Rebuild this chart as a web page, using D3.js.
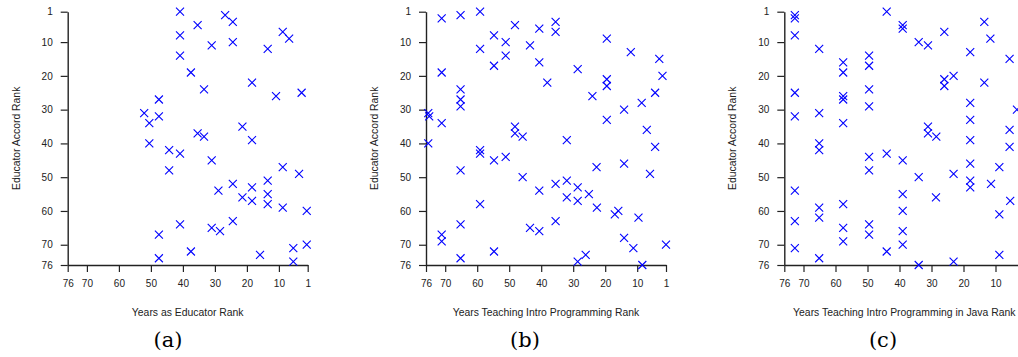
<!DOCTYPE html>
<html>
<head>
<meta charset="utf-8">
<script src="https://cdn.jsdelivr.net/npm/d3@7"></script>
<style>
  html, body { margin: 0; padding: 0; background: #fff; }
  svg { display: block; }
</style>
</head>
<body>
<svg id="chart" width="1018" height="357"></svg>
<script>
// ---- Data (ranks) ----
const xTicks = [76, 70, 60, 50, 40, 30, 20, 10, 1];
const yTicks = [1, 10, 20, 30, 40, 50, 60, 70, 76];
const yTitle = "Educator Accord Rank";
const xTitles = ["Years as Educator Rank", "Years Teaching Intro Programming Rank", "Years Teaching Intro Programming in Java Rank"];
const captions = ["(a)", "(b)", "(c)"];

// Panel (a): Years as Educator Rank vs Educator Accord Rank
const aX = [40.9,35.4,40.9,40.9,26.8,24.4,31,24.4,37.5,33.4,18.4,13.5,8.8,6.8,10.9,2.9,47.5,52.1,50.5,47.5,50.5,44.3,40.9,44.3,35.4,33.4,31,21.4,18.4,8.8,3.7,28.9,24.4,21.4,18.4,18.4,13.5,13.5,13.5,8.8,1.3,40.9,47.5,47.5,37.5,31,28.4,24.4,15.9,5.5,5.5,1.3];
const aY = [1,5,8,14,2,4,11,10,19,24,22,12,7,9,26,25,27,31,34,32,40,42,43,48,37,38,45,35,39,47,49,54,52,56,53,57,51,55,58,59,60,64,67,74,72,65,66,63,73,71,75,70];

// Panel (b): Years Teaching Intro Programming Rank
const bX = [71.1,65.2,59.1,54.75,51.1,48.2,43.5,40.6,35.5,35.5,59.1,51.1,54.75,40.6,38.1,28.6,19.5,12,3.1,2.1,19.5,19.5,24,14.1,8.6,4.4,19.5,7,4.4,75.3,75,75.3,71.1,71.1,65.2,65.2,65.2,48.2,48.2,45.8,32,59.1,59.1,54.75,51.1,65.2,22.7,14.1,6,45.8,32,40.6,35.5,32,28.6,28.6,25.1,22.6,17,15.9,9.6,59.1,65.2,65.2,71.1,71.1,54.75,43.5,40.6,35.5,28.6,26.1,14.1,11.2,8.4,1];
const bY = [3,2,1,8,10,5,11,6,4,7,12,14,17,16,22,18,9,13,15,20,21,23,26,30,28,25,33,36,41,31,32,40,19,34,24,27,29,35,37,38,39,42,43,45,44,48,47,46,49,50,51,54,52,56,53,57,55,59,61,60,62,58,64,74,67,69,72,65,66,63,75,73,68,71,76,70];

// Panel (c): Years Teaching Intro Programming in Java Rank
const cX = [72.7,72.7,72.7,72.7,72.7,65.1,65.1,65.1,65.1,57.6,57.6,57.6,57.6,57.6,49.5,49.5,49.5,49.5,49.5,49.5,44,44,39,39,39,34,31.1,31.1,31.1,28.5,34,26,26,26,23.1,23.1,17.9,17.9,17.9,17.9,17.9,17.9,13.5,13.5,11.6,8.8,5.6,5.6,5.6,3.3,72.7,72.7,72.7,65.1,65.1,65.1,57.6,57.6,57.6,49.5,49.5,44,39,39,39,39,34,28.6,23.1,17.9,11.4,8.8,8.8,5.4];
const cY = [2,3,8,25,32,12,31,40,42,16,19,26,27,34,14,17,24,29,44,48,1,43,5,6,45,10,11,35,37,38,50,7,21,23,20,49,13,28,33,39,46,51,4,22,9,47,15,36,41,30,54,63,71,59,62,74,58,65,69,64,67,72,55,60,66,70,76,56,75,53,52,61,73,57];

const panels = [
  { xs: aX, ys: aY, x0: 67.7 },
  { xs: bX, ys: bY, x0: 426 },
  { xs: cX, ys: cY, x0: 784.3 }
];
const captionX = [168, 525, 883];

// ---- Drawing ----
const W = 1018;
const svg = d3.select("#chart");
const plotW = 240, yTop = 11.7, yBot = 265;
const textColor = "#222";
const axisColor = "#222";
const sans = "'Liberation Sans', Arial, Helvetica, sans-serif";

panels.forEach((p, i) => {
  const x = d3.scaleLinear().domain([76, 1]).range([p.x0, p.x0 + plotW]);
  const y = d3.scaleLinear().domain([1, 76]).range([yTop, yBot]);
  const g = svg.append("g");

  // x axis
  const gx = g.append("g")
    .attr("transform", `translate(0,${yBot})`)
    .call(d3.axisBottom(x).tickValues(xTicks).tickFormat(d3.format("d"))
      .tickSize(7).tickSizeOuter(0).tickPadding(8));
  // ticks that fall outside the picture (panel c is cut at the right edge)
  gx.selectAll(".tick").filter(d => x(d) > W - 2).select("text").remove();

  // y axis
  const gy = g.append("g")
    .attr("transform", `translate(${p.x0},0)`)
    .call(d3.axisLeft(y).tickValues(yTicks).tickFormat(d3.format("d"))
      .tickSize(7).tickSizeOuter(0).tickPadding(8));

  [gx, gy].forEach(ax => {
    ax.select(".domain").attr("stroke", axisColor).attr("stroke-width", 1.4);
    ax.selectAll(".tick line").attr("stroke", axisColor).attr("stroke-width", 1.2);
    ax.selectAll(".tick text")
      .attr("fill", textColor)
      .style("font-family", sans)
      .style("font-size", "10px");
  });

  // points (x marks)
  g.append("g").selectAll("path")
    .data(p.xs.map((v, k) => [v, p.ys[k]]))
    .join("path")
    .attr("transform", d => `translate(${x(d[0])},${y(d[1])})`)
    .attr("d", "M-4,-4L4,4M-4,4L4,-4")
    .attr("fill", "none")
    .attr("stroke", "#0000ff")
    .attr("stroke-width", 1.1);

  // axis titles
  g.append("text")
    .attr("x", (x.range()[0] + x.range()[1]) / 2)
    .attr("y", 316)
    .attr("text-anchor", "middle")
    .attr("fill", textColor)
    .style("font-family", sans)
    .style("font-size", "10.4px")
    .text(xTitles[i]);

  g.append("text")
    .attr("transform", `translate(${p.x0 - 48},${(yTop + yBot) / 2}) rotate(-90)`)
    .attr("text-anchor", "middle")
    .attr("fill", textColor)
    .style("font-family", sans)
    .style("font-size", "10.4px")
    .text(yTitle);

  // caption
  g.append("text")
    .attr("x", captionX[i])
    .attr("y", 347)
    .attr("text-anchor", "middle")
    .attr("fill", "#000")
    .style("font-family", "'DejaVu Serif', serif")
    .style("font-size", "21px")
    .text(captions[i]);
});
</script>
</body>
</html>
